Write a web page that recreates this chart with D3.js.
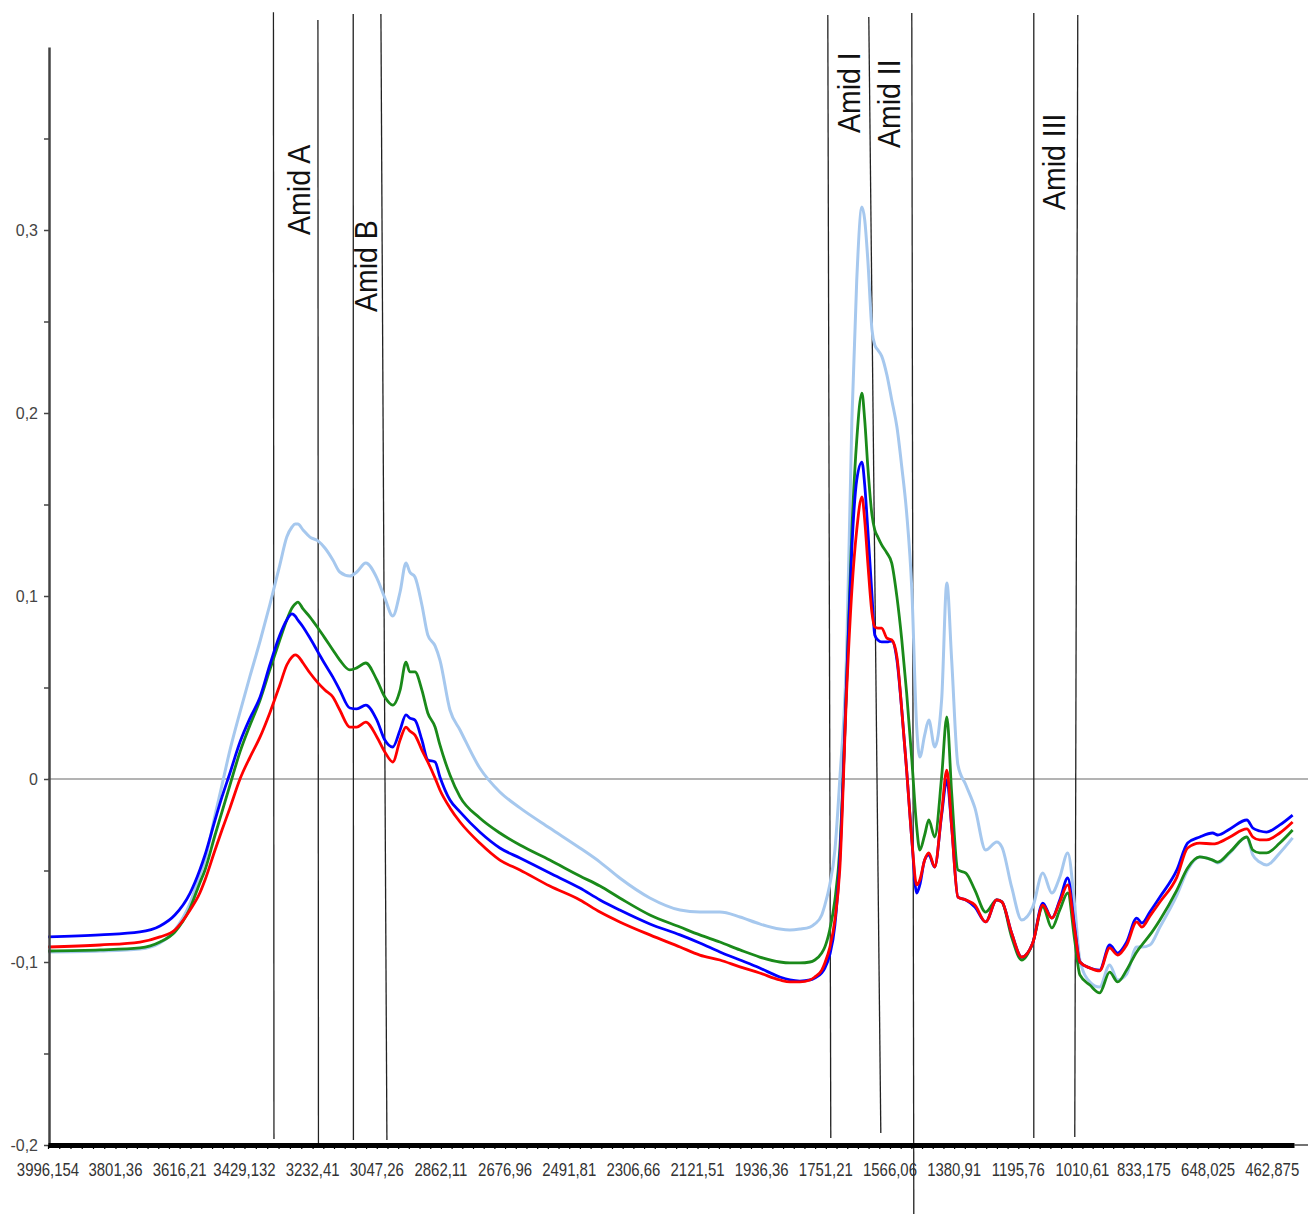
<!DOCTYPE html>
<meta charset="utf-8">
<head>
    <title>FTIR spectra</title>
    <script src="https://cdn.jsdelivr.net/npm/d3@7"></script>
    <style>
        body { margin: 0; background: #fff; }
        text { font-family: "Liberation Sans", Arial, sans-serif; }
        .yaxis text { font-size: 16px; fill: #444; }
        .xlabel { font-size: 18px; fill: #333; }
        .band { font-size: 28.5px; fill: #111; }
    </style>
</head>
<body>
<div id="chart"></div>
<script>
// wavenumber grid (cm-1)
var wavenumber = [3996,3846,3731,3673,3630,3586,3558,3543,3514,3494,
    3471,3442,3413,3384,3356,3327,3307,3292,3283,3275,
    3260,3240,3217,3197,3174,3154,3125,3105,3079,3047,
    3024,3001,2980,2963,2952,2937,2917,2900,2879,2865,
    2836,2807,2750,2692,2634,2548,2461,2403,2346,2259,
    2172,2115,2057,1999,1942,1884,1855,1826,1797,1783,
    1763,1754,1740,1725,1711,1691,1676,1662,1647,1639,
    1630,1618,1610,1601,1590,1575,1561,1546,1532,1518,
    1503,1489,1480,1466,1454,1437,1417,1402,1388,1370,
    1347,1321,1290,1258,1243,1215,1186,1154,1125,1099,
    1076,1053,1033,1018,989,961,932,909,883,854,
    839,816,787,738,707,672,635,620,585,536,
    519,499,479,441,404];

var lightBlue = [-0.0945,-0.094,-0.0929,-0.0896,-0.0825,-0.0678,-0.0525,-0.0443,-0.0197,-0.0033,
    0.0158,0.0366,0.0563,0.0754,0.0951,0.117,0.1322,0.1377,0.1393,0.1393,
    0.1361,0.1322,0.1301,0.1262,0.1197,0.1131,0.1109,0.1131,0.118,0.1098,
    0.0989,0.0891,0.1022,0.118,0.1131,0.1104,0.0951,0.0787,0.0727,0.065,
    0.0377,0.0268,0.006,-0.0071,-0.0158,-0.0268,-0.0377,-0.0454,-0.0541,-0.065,
    -0.0716,-0.0727,-0.0727,-0.0754,-0.0792,-0.082,-0.0825,-0.082,-0.0809,-0.0792,
    -0.0743,-0.0689,-0.0579,-0.0388,-0.0005,0.0705,0.1962,0.2727,0.3126,0.3055,
    0.2836,0.2454,0.2372,0.2344,0.2311,0.2208,0.2071,0.1923,0.1705,0.1454,
    0.1033,0.0284,0.012,0.024,0.0322,0.0175,0.0432,0.1071,0.065,0.0077,
    -0.0033,-0.0158,-0.0388,-0.0344,-0.0372,-0.059,-0.077,-0.0699,-0.0514,-0.0623,
    -0.0536,-0.0404,-0.0689,-0.0989,-0.1109,-0.1137,-0.1016,-0.1098,-0.1066,-0.0918,
    -0.0918,-0.0907,-0.0809,-0.0634,-0.0497,-0.0426,-0.0443,-0.0459,-0.0404,-0.0317,
    -0.0415,-0.0454,-0.047,-0.0404,-0.0322];

var green = [-0.094,-0.0934,-0.0923,-0.0891,-0.0836,-0.0705,-0.0568,-0.0497,-0.0306,-0.018,
    -0.0033,0.0148,0.0295,0.0432,0.0596,0.076,0.0869,0.0934,0.0956,0.0967,
    0.0929,0.0885,0.0825,0.077,0.0705,0.065,0.0596,0.0607,0.0634,0.0541,
    0.0448,0.0404,0.0486,0.0639,0.0585,0.0585,0.0486,0.0361,0.0284,0.0186,
    0.0022,-0.0098,-0.0213,-0.0295,-0.0361,-0.0443,-0.053,-0.0585,-0.065,-0.0743,
    -0.0809,-0.0852,-0.0891,-0.0934,-0.0973,-0.1,-0.1005,-0.1005,-0.1,-0.0989,
    -0.0951,-0.0918,-0.0825,-0.0661,-0.0388,0.0541,0.1361,0.1852,0.2109,0.1962,
    0.1705,0.1443,0.1361,0.1322,0.1279,0.1235,0.118,0.0995,0.076,0.047,
    0.0104,-0.0262,-0.0388,-0.0306,-0.0224,-0.0317,0.0011,0.0339,-0.0077,-0.0497,
    -0.0514,-0.0607,-0.0727,-0.0661,-0.0672,-0.0863,-0.0989,-0.0896,-0.0699,-0.0814,
    -0.0716,-0.0623,-0.088,-0.1071,-0.1126,-0.1169,-0.1055,-0.1109,-0.1044,-0.0945,
    -0.0907,-0.0852,-0.077,-0.0607,-0.0486,-0.0426,-0.0443,-0.0454,-0.0399,-0.0317,
    -0.0388,-0.0404,-0.0404,-0.035,-0.0279];

var blue = [-0.0863,-0.0852,-0.0836,-0.0803,-0.0743,-0.0623,-0.0497,-0.0415,-0.0224,-0.0098,
    0.0033,0.0202,0.0333,0.0448,0.0623,0.0787,0.0869,0.0902,0.0891,0.0869,
    0.0831,0.077,0.0694,0.0628,0.0557,0.0486,0.0388,0.0383,0.0404,0.0322,
    0.0213,0.0175,0.0268,0.035,0.0333,0.0322,0.0213,0.0104,0.0093,0.0011,
    -0.0115,-0.018,-0.029,-0.0377,-0.0432,-0.0514,-0.0596,-0.0661,-0.0716,-0.0792,
    -0.0852,-0.0896,-0.0945,-0.0989,-0.1033,-0.1082,-0.1098,-0.1104,-0.1098,-0.1087,
    -0.106,-0.1033,-0.0962,-0.0798,-0.0443,0.0541,0.1268,0.1634,0.1732,0.1607,
    0.1361,0.1005,0.0787,0.076,0.0749,0.0749,0.0754,0.065,0.0377,0.0049,
    -0.0333,-0.0623,-0.0579,-0.0443,-0.0415,-0.0481,-0.0197,-0.0005,-0.0262,-0.0645,
    -0.0661,-0.0699,-0.0781,-0.0661,-0.0672,-0.0842,-0.0973,-0.0896,-0.0678,-0.076,
    -0.0661,-0.0541,-0.0809,-0.1,-0.1033,-0.1044,-0.0907,-0.0951,-0.0891,-0.076,
    -0.0787,-0.0727,-0.0645,-0.0497,-0.035,-0.0317,-0.0295,-0.0306,-0.0273,-0.0224,
    -0.0268,-0.0284,-0.029,-0.0251,-0.0197];

var red = [-0.0918,-0.0907,-0.0891,-0.0863,-0.0825,-0.0716,-0.0623,-0.0552,-0.0388,-0.0279,
    -0.0158,0,0.012,0.023,0.0361,0.0514,0.0623,0.0667,0.0678,0.0672,
    0.0634,0.0579,0.0525,0.0486,0.0448,0.0377,0.0284,0.0284,0.0311,0.023,
    0.0148,0.0093,0.0213,0.0284,0.0262,0.024,0.0158,0.0093,0.0005,-0.006,
    -0.0158,-0.0235,-0.035,-0.0443,-0.0497,-0.0585,-0.0661,-0.0727,-0.0781,-0.0852,
    -0.0918,-0.0962,-0.0989,-0.1027,-0.106,-0.1098,-0.1109,-0.1109,-0.1098,-0.1082,
    -0.1044,-0.1005,-0.0923,-0.077,-0.0497,0.0486,0.1033,0.1361,0.1541,0.1415,
    0.118,0.0907,0.0831,0.0825,0.0825,0.077,0.076,0.0667,0.0377,0.0049,
    -0.0333,-0.0579,-0.0552,-0.0443,-0.0404,-0.0481,-0.0186,0.0049,-0.0262,-0.0645,
    -0.0661,-0.0689,-0.0781,-0.0661,-0.0672,-0.0842,-0.0973,-0.0896,-0.0689,-0.076,
    -0.0672,-0.0579,-0.0825,-0.1,-0.1033,-0.1049,-0.0923,-0.0962,-0.0907,-0.0781,
    -0.0809,-0.0749,-0.0672,-0.0536,-0.0377,-0.035,-0.0355,-0.035,-0.0317,-0.0273,
    -0.0317,-0.0333,-0.0333,-0.0295,-0.0235];

// x tick labels as printed (comma decimals)
var xTicks = [3996.154,3801.36,3616.21,3429.132,3232.41,3047.26,2862.11,2676.96,2491.81,2306.66,
    2121.51,1936.36,1751.21,1566.06,1380.91,1195.76,1010.61,833.175,648.025,462.875];
var xTickText = ["3996,154","3801,36","3616,21","3429,132","3232,41","3047,26","2862,11","2676,96","2491,81","2306,66",
    "2121,51","1936,36","1751,21","1566,06","1380,91","1195,76","1010,61","833,175","648,025","462,875"];

// band marker lines (wavenumber at top / bottom, absorbance extent)
var markTopW = [3345.5,3217.1,3115.2,3035.3,1745.5,1627.2,1503.1,1151.0,1024.1];
var markBottomW = [3344.0,3215.6,3114.6,3018.0,1736.9,1592.5,1497.3,1151.0,1032.7];
var markTopA = [0.419,0.4148,0.418,0.418,0.4175,0.4164,0.4186,0.4186,0.4175];
var markBottomA = [-0.1967,-0.2,-0.1973,-0.1973,-0.1962,-0.1934,-0.2377,-0.1962,-0.1956];

// band names and where they sit
var bandNames = ["Amid A","Amid B","Amid I","Amid II","Amid III"];
var bandLabelW = [3240,3047,1653,1538,1061.5];
var bandLabelA = [0.2973,0.2552,0.353,0.3448,0.3109];

var seriesColors = ["#a6c8ee","#1a8a1a","#0000ff","#ff0000"];
var series = [lightBlue, green, blue, red];

var w = 1308, h = 1214;

var svg = d3.select("#chart").append("svg")
    .attr("width", w)
    .attr("height", h);

var x = d3.scaleLinear().domain([3996.154, 400]).range([48, 1294]);
var y = d3.scaleLinear().domain([-0.2, 0.4]).range([1145, 47]);

// zero line
svg.append("line")
    .attr("x1", x(3996.154)).attr("x2", w)
    .attr("y1", y(0)).attr("y2", y(0))
    .attr("stroke", "#9a9a9a")
    .attr("stroke-width", 1.5);

// marker lines
svg.append("g").selectAll("line")
    .data(markTopW)
    .enter().append("line")
    .attr("x1", function(d) { return x(d); })
    .attr("x2", function(d, i) { return x(markBottomW[i]); })
    .attr("y1", function(d, i) { return y(markTopA[i]); })
    .attr("y2", function(d, i) { return y(markBottomA[i]); })
    .attr("stroke", "#222")
    .attr("stroke-width", 1.3);

// spectra
var line = d3.line()
    .x(function(d, i) { return x(wavenumber[i]); })
    .y(function(d) { return y(d); })
    .curve(d3.curveMonotoneX);

svg.append("g").selectAll("path")
    .data(series)
    .enter().append("path")
    .attr("d", line)
    .attr("fill", "none")
    .attr("stroke", function(d, i) { return seriesColors[i]; })
    .attr("stroke-width", function(d, i) { return i == 0 ? 3 : 2.8; })
    .attr("stroke-linejoin", "round");

// y axis
var locale = d3.formatLocale({decimal: ",", thousands: ".", grouping: [3], currency: ["", ""], minus: "-"});
var fmt = locale.format(".1f");
var yTickValues = d3.range(0, 12).map(function(i) { return Math.round((-0.2 + i * 0.05) * 100) / 100; });

var yAxis = d3.axisLeft(y)
    .tickValues(yTickValues)
    .tickSize(5)
    .tickSizeOuter(0)
    .tickPadding(6)
    .tickFormat(function(d) {
        var k = Math.round(d * 100);
        if (k % 10 != 0) return "";
        if (k == 0) return "0";
        return fmt(d);
    });

var gy = svg.append("g")
    .attr("class", "yaxis")
    .attr("transform", "translate(49,0)")
    .call(yAxis);
gy.select(".domain").attr("stroke", "#444").attr("stroke-width", 2.5);
gy.selectAll(".tick line").attr("stroke", "#444").attr("stroke-width", 1.5);
gy.selectAll("text").attr("font-family", null);

// x axis: thick bar with minor ticks
var minorTicks = [];
for (var i = 0; i < xTicks.length - 1; i++) {
    for (var j = 0; j < 6; j++) {
        minorTicks.push(xTicks[i] + (xTicks[i + 1] - xTicks[i]) * j / 6);
    }
}
var xAxis = d3.axisBottom(x)
    .tickValues(minorTicks)
    .tickSize(4)
    .tickSizeOuter(0)
    .tickFormat("");

var gx = svg.append("g")
    .attr("transform", "translate(0," + y(-0.2) + ")")
    .call(xAxis);
gx.select(".domain").attr("stroke", "#000").attr("stroke-width", 5);
gx.selectAll(".tick line").attr("stroke", "#000").attr("stroke-width", 1.2);

svg.append("line")
    .attr("x1", x(400)).attr("x2", w)
    .attr("y1", y(-0.2)).attr("y2", y(-0.2))
    .attr("stroke", "#444")
    .attr("stroke-width", 1.5);

svg.append("g").selectAll("text")
    .data(xTicks)
    .enter().append("text")
    .attr("class", "xlabel")
    .attr("text-anchor", "middle")
    .attr("transform", function(d) { return "translate(" + x(d) + ",1176) scale(0.83,1)"; })
    .text(function(d, i) { return xTickText[i]; });

// band labels, rotated
svg.append("g").selectAll("text")
    .data(bandNames)
    .enter().append("text")
    .attr("class", "band")
    .attr("transform", function(d, i) {
        return "translate(" + x(bandLabelW[i]) + "," + y(bandLabelA[i]) + ") rotate(-90) scale(1,1.12)";
    })
    .text(function(d) { return d; });
</script>
</body>
</html>
